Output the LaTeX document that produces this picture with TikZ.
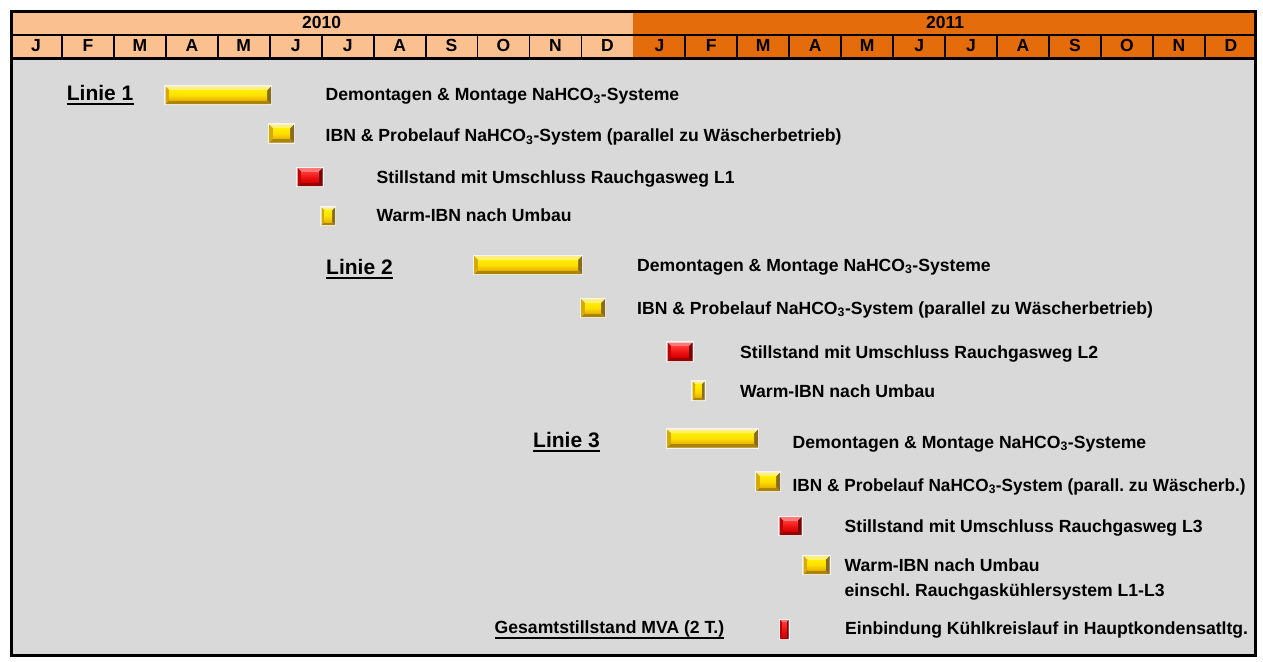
\documentclass[tikz,border=0pt]{standalone}
\usepackage{fontspec}
\setmainfont{Liberation Sans}
\usetikzlibrary{fit}
\frenchspacing
\definecolor{bg}{RGB}{217,217,217}
\definecolor{lor}{RGB}{250,192,144}
\definecolor{dor}{RGB}{228,108,10}
\definecolor{ytop}{RGB}{255,240,120}
\definecolor{yft}{RGB}{255,238,0}
\definecolor{yfm}{RGB}{255,222,0}
\definecolor{yfb}{RGB}{232,182,0}
\definecolor{ybot}{RGB}{172,132,0}
\definecolor{ylef}{RGB}{215,170,0}
\definecolor{yrig}{RGB}{135,108,30}
\definecolor{rtop}{RGB}{255,120,120}
\definecolor{rft}{RGB}{255,55,55}
\definecolor{rfm}{RGB}{240,20,20}
\definecolor{rfb}{RGB}{215,0,0}
\definecolor{rbot}{RGB}{150,0,0}
\definecolor{rlef}{RGB}{190,0,0}
\definecolor{rrig}{RGB}{120,0,0}
\newcommand\bevbar[7][4]{%
  \node[fit={(#3,#4)(#5,#6)},inner sep=0pt,outer sep=0pt] (#2) {};
  \draw[white!70!bg,line width=1.2pt] ([xshift=-0.6pt,yshift=0.6pt]#2.north west) rectangle ([xshift=0.6pt,yshift=-0.6pt]#2.south east);
  \fill[#7top] (#2.north west) -- (#2.north east) -- ([xshift=-#1pt,yshift=-#1pt]#2.north east) -- ([xshift=#1pt,yshift=-#1pt]#2.north west) -- cycle;
  \fill[#7bot] (#2.south west) -- (#2.south east) -- ([xshift=-#1pt,yshift=#1pt]#2.south east) -- ([xshift=#1pt,yshift=#1pt]#2.south west) -- cycle;
  \fill[#7lef] (#2.north west) -- ([xshift=#1pt,yshift=-#1pt]#2.north west) -- ([xshift=#1pt,yshift=#1pt]#2.south west) -- (#2.south west) -- cycle;
  \fill[#7rig] (#2.north east) -- ([xshift=-#1pt,yshift=-#1pt]#2.north east) -- ([xshift=-#1pt,yshift=#1pt]#2.south east) -- (#2.south east) -- cycle;
  \shade[top color=#7ft, bottom color=#7fb, middle color=#7fm] ([xshift=#1pt,yshift=-#1pt]#2.north west) rectangle ([xshift=-#1pt,yshift=#1pt]#2.south east);
}
\tikzset{
  lbl/.style={anchor=base west, inner sep=0pt, font=\bfseries\fontsize{17.6}{20}\selectfont},
  linie/.style={anchor=base west, inner sep=0pt, font=\bfseries\fontsize{21}{24}\selectfont},
  hdr/.style={anchor=base, inner sep=0pt, font=\bfseries\fontsize{17.5}{20}\selectfont},
  uline/.style={line width=2.2pt},
}
\begin{document}
\begin{tikzpicture}[x=1pt,y=-1pt]
\useasboundingbox (0,0) rectangle (1263,661);
% background and header
\fill[bg] (10,10) rectangle (1257,657);
\fill[lor] (10,10) rectangle (633.4,58);
\fill[dor] (633.4,10) rectangle (1257,58);
\node[hdr] (y2010) at (321.7,29) {2010};
\node[hdr] (y2011) at (945.2,29) {2011};
\foreach \m [count=\i] in {J,F,M,A,M,J,J,A,S,O,N,D,J,F,M,A,M,J,J,A,S,O,N,D}{
  \node[hdr] (m\i) at ({10+51.95*(\i-0.5)},52) {\m};
}
\foreach \i in {1,...,11,13,14,...,23}{
  \draw[line width=1.8pt] ({10+51.95*\i},35) -- ({10+51.95*\i},58);
}
\draw[line width=2pt] (10,35) -- (1257,35);
\draw[line width=2.5pt] (10,58.5) -- (1257,58.5);
\draw[line width=2.7pt] (11.3,11.3) rectangle (1255.8,655.8);

% Linie 1
\node[linie] (l1) at (66.7,100.3) {Linie 1};
\draw[uline] ([yshift=-4pt]l1.base west) -- ([yshift=-4pt]l1.base east);
\bevbar{a1}{165.5}{86.5}{271}{104}{y}
\bevbar{a2}{269}{124.5}{294}{142.5}{y}
\bevbar{a3}{297.5}{168}{322.5}{186}{r}
\bevbar[3]{a4}{321.5}{207.5}{335}{225}{y}
\node[lbl] (ta1) at (325.5,100.5) {Demontagen \& Montage NaHCO\textsubscript{3}-Systeme};
\node[lbl] (ta2) at (325.5,141.8) {IBN \& Probelauf NaHCO\textsubscript{3}-System (parallel zu Wäscherbetrieb)};
\node[lbl] (ta3) at (376.5,183) {Stillstand mit Umschluss Rauchgasweg L1};
\node[lbl] (ta4) at (376.5,221.8) {Warm-IBN nach Umbau};

% Linie 2
\node[linie] (l2) at (326,274.2) {Linie 2};
\draw[uline] ([yshift=-4pt]l2.base west) -- ([yshift=-4pt]l2.base east);
\bevbar{b1}{474}{256}{582}{274}{y}
\bevbar{b2}{581}{299}{605}{317}{y}
\bevbar{b3}{667.5}{342.5}{692.5}{361}{r}
\bevbar[3]{b4}{692.5}{381.5}{704.5}{400}{y}
\node[lbl] (tb1) at (637,271.3) {Demontagen \& Montage NaHCO\textsubscript{3}-Systeme};
\node[lbl] (tb2) at (637,314.3) {IBN \& Probelauf NaHCO\textsubscript{3}-System (parallel zu Wäscherbetrieb)};
\node[lbl] (tb3) at (740,358.3) {Stillstand mit Umschluss Rauchgasweg L2};
\node[lbl] (tb4) at (740,397.3) {Warm-IBN nach Umbau};

% Linie 3
\node[linie] (l3) at (533,447) {Linie 3};
\draw[uline] ([yshift=-4pt]l3.base west) -- ([yshift=-4pt]l3.base east);
\bevbar{c1}{667}{429.5}{758}{447.5}{y}
\bevbar{c2}{756}{472.5}{780}{491}{y}
\bevbar{c3}{779.5}{517}{801.5}{535}{r}
\bevbar{c4}{803.5}{556}{829.5}{574}{y}
\node[lbl] (tc1) at (792.5,448) {Demontagen \& Montage NaHCO\textsubscript{3}-Systeme};
\node[lbl] (tc2) at (792.5,491.3) {\scalebox{0.978}[1]{IBN \& Probelauf NaHCO\textsubscript{3}-System (parall. zu Wäscherb.)}};
\node[lbl] (tc3) at (844.5,532.6) {Stillstand mit Umschluss Rauchgasweg L3};
\node[lbl] (tc4) at (844.5,571.5) {Warm-IBN nach Umbau};
\node[lbl] (tc5) at (844.5,596.5) {einschl. Rauchgaskühlersystem L1-L3};

% Gesamtstillstand
\node[lbl] (g) at (494.5,633.7) {Gesamtstillstand MVA (2 T.)};
\draw[line width=1.6pt] ([yshift=-4pt]g.base west) -- ([yshift=-4pt]g.base east);
\bevbar[2]{d1}{780}{620}{788.5}{639}{r}
\node[lbl] (td1) at (845,634) {Einbindung Kühlkreislauf in Hauptkondensatltg.};
\end{tikzpicture}
\end{document}
